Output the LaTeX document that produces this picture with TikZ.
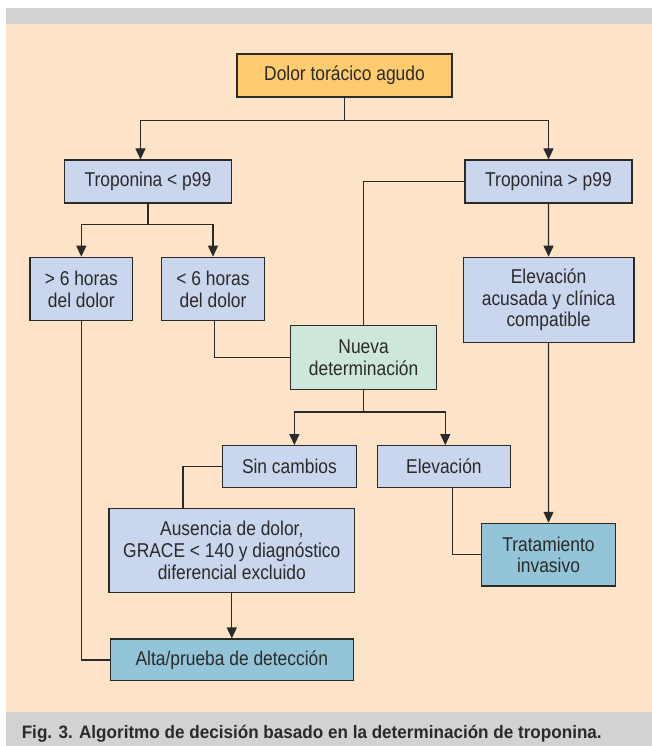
\documentclass[tikz,border=0pt]{standalone}
\usepackage{fontspec}
\setmainfont{Liberation Sans}[FakeStretch=0.87]
\newfontfamily\capfont{Liberation Sans}[FakeStretch=0.95]
\usepackage{tikz}
\usetikzlibrary{arrows.meta}

\definecolor{peach}{HTML}{FDE3C8}
\definecolor{band}{HTML}{D1D2D4}
\definecolor{startfill}{HTML}{FECB6E}
\definecolor{stepfill}{HTML}{CAD5EE}
\definecolor{checkfill}{HTML}{CDE8DA}
\definecolor{endfill}{HTML}{93C4D8}
\definecolor{ink}{HTML}{2B2A2A}

\begin{document}
\begin{tikzpicture}[
    x=1pt,
    y=-1pt,
    >={Triangle[length=11pt, width=10pt]},
    box/.style={draw=ink, line width=1.2pt, align=center, inner sep=0pt, text=ink, font=\fontsize{20}{21.7}\selectfont, fill=stepfill},
    startbox/.style={box, fill=startfill},
    checkbox/.style={box, fill=checkfill},
    endbox/.style={box, fill=endfill},
    line/.style={draw=ink, line width=1.2pt}
]
\useasboundingbox (0,0) rectangle (652,746);
\fill[band] (6,8) rectangle (652,24);
\fill[peach] (6,24) rectangle (652,712);
\fill[band] (6,712) rectangle (652,746);

\node[startbox, minimum width=215pt, minimum height=43pt] (dolor) at (344.5,75.5) {Dolor torácico agudo};
\node[box, minimum width=167pt, minimum height=43pt] (tropLow) at (148,181.5) {Troponina < p99};
\node[box, minimum width=167pt, minimum height=43pt] (tropHigh) at (548.5,181.5) {Troponina > p99};
\node[box, minimum width=102.6pt, minimum height=63.4pt] (moreSix) at (81.3,289) {> 6 horas\\del dolor};
\node[box, minimum width=102.7pt, minimum height=63.4pt] (lessSix) at (213,289) {< 6 horas\\del dolor};
\node[box, minimum width=170.8pt, minimum height=85pt] (elevSharp) at (548.6,299.8) {Elevación\\acusada y clínica\\compatible};
\node[checkbox, minimum width=146pt, minimum height=63.6pt] (retest) at (363.6,357.5) {Nueva\\determinación};
\node[box, minimum width=133.8pt, minimum height=41.6pt] (noChange) at (289.4,466.5) {Sin cambios};
\node[box, minimum width=133.5pt, minimum height=41.6pt] (rise) at (443.9,466.5) {Elevación};
\node[box, minimum width=245.8pt, minimum height=84.4pt] (noPain) at (231.8,550.5) {Ausencia de dolor,\\GRACE < 140 y diagnóstico\\diferencial excluido};
\node[endbox, minimum width=243.2pt, minimum height=41.7pt] (discharge) at (231.8,659.9) {Alta/prueba de detección};
\node[endbox, minimum width=134pt, minimum height=62.7pt] (invasive) at (548.5,554.7) {Tratamiento\\invasivo};
\node[anchor=base west, font=\capfont\fontsize{18}{20}\selectfont\bfseries, text=ink, inner sep=0pt] (caption) at (21.6,738) {Fig. 3. Algoritmo de decisión basado en la determinación de troponina.};

\draw[line] (dolor.south) -- ++(0,23) coordinate (split);
\draw[line,->] (split) -| ([xshift=-7.5pt]tropLow.north);
\draw[line,->] (split) -| (tropHigh.north);
\draw[line] (tropLow.south) -- ++(0,20.5) coordinate (splitLow);
\draw[line,->] (splitLow) -| (moreSix.north);
\draw[line,->] (splitLow) -| (lessSix.north);
\draw[line,->] (tropHigh) -- (elevSharp);
\draw[line] (tropHigh.west) -| (retest.north);
\draw[line] ([xshift=1.5pt]lessSix.south) |- (retest.west);
\draw[line] (retest.south) -- ++(0,22) coordinate (splitRetest);
\draw[line,->] (splitRetest) -| ([xshift=5pt]noChange.north);
\draw[line,->] (splitRetest) -| ([xshift=1.4pt]rise.north);
\draw[line] (noChange.west) -| ([xshift=-48.8pt]noPain.north);
\draw[line,->] (noPain) -- (discharge);
\draw[line] (moreSix.south) |- (discharge.west);
\draw[line] ([xshift=8.5pt]rise.south) |- (invasive.west);
\draw[line,->] (elevSharp) -- (invasive);
\end{tikzpicture}
\end{document}
